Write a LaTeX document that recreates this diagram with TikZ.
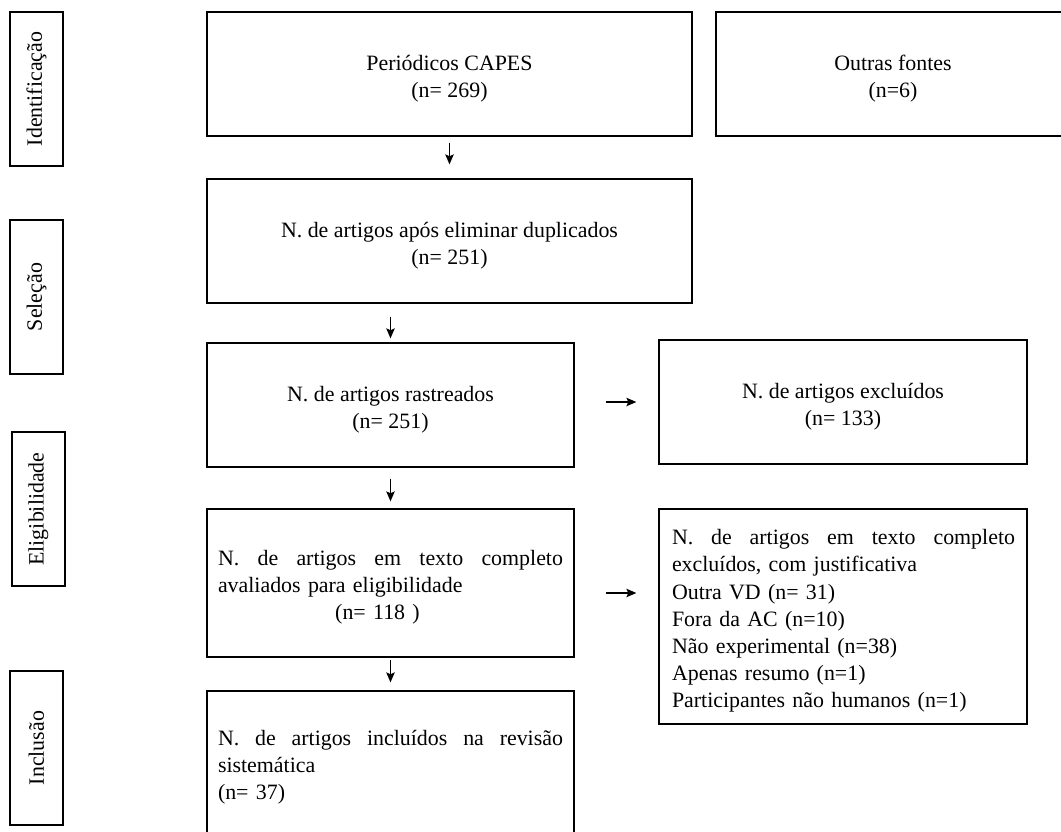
\documentclass[tikz,border=0pt]{standalone}
\usepackage{fontspec}
\setmainfont{Liberation Serif}
\usetikzlibrary{arrows.meta,calc}
\begin{document}
\begin{tikzpicture}[x=1pt,y=-1pt,
  box/.style={draw=black, line width=1.3pt, rectangle, inner sep=0pt},
  txt/.style={inner sep=0pt, font=\fontsize{21.9}{27.2}\selectfont},
  phasebox/.style={draw=black, line width=1.3pt, rectangle, rotate=90, inner sep=0pt,
    minimum width=154pt, minimum height=53pt, font=\fontsize{21.9}{27}\selectfont},
  arr/.style={line width=1.4pt, -{Stealth[length=10pt,width=8.5pt,inset=2pt]}}]
\useasboundingbox (0,0) rectangle (1061,832);
\fill[white] (0,0) rectangle (1061,832);

% phase labels
\node[phasebox] (pid) at (36.5,89) {Identificação};
\node[phasebox] (psel) at (36.5,297) {Seleção};
\node[phasebox] (pel) at (38.5,509) {Eligibilidade};
\node[phasebox] (pin) at (36.5,748) {Inclusão};

% boxes
\node[box, minimum width=485pt, minimum height=124pt] (capes) at (449.5,74) {};
\node[box, minimum width=354pt, minimum height=124pt] (outras) at (893,74) {};
\node[box, minimum width=485pt, minimum height=124pt] (dup) at (449.5,241) {};
\node[box, minimum width=367pt, minimum height=124pt] (rast) at (390.5,405) {};
\node[box, minimum width=368pt, minimum height=124pt] (excl) at (843,402) {};
\node[box, minimum width=367pt, minimum height=148pt] (elig) at (390.5,583) {};
\node[box, minimum width=368pt, minimum height=215pt] (just) at (843,616.5) {};
\node[box, minimum width=367pt, minimum height=148pt] (incl) at (390.5,765) {};

% texts
\node[txt, align=center] (capesT) at ($(capes.center)+(0,4.5)$) {Periódicos CAPES\\(n= 269)};
\node[txt, align=center] (outrasT) at ($(outras.center)+(0,4.5)$) {Outras fontes\\(n=6)};
\node[txt, align=center] (dupT) at ($(dup.center)+(0,4.5)$) {N. de artigos após eliminar duplicados\\(n= 251)};
\node[txt, align=center] (rastT) at ($(rast.center)+(0,4.5)$) {N. de artigos rastreados\\(n= 251)};
\node[txt, align=center] (exclT) at ($(excl.center)+(0,4.5)$) {N. de artigos excluídos\\(n= 133)};
\node[txt, text width=345pt, align=left] (eligT) at ($(elig.center)+(0,4.5)$)
  {\hbox to 345pt{N.\hfill de\hfill artigos\hfill em\hfill texto\hfill completo}\\avaliados para eligibilidade\\\hbox to 345pt{\hfil(n= 118 )\hfil\hskip 26pt}};
\node[txt, text width=343pt, align=left] (justT) at ($(just.center)+(0.5,4.5)$)
  {\hbox to 343pt{N.\hfill de\hfill artigos\hfill em\hfill texto\hfill completo}\\excluídos, com justificativa\\Outra VD (n= 31)\\Fora da AC (n=10)\\Não experimental (n=38)\\Apenas resumo (n=1)\\Participantes não humanos (n=1)};
\node[txt, text width=345pt, align=left] (inclT) at ($(incl.center)+(0,2.5)$)
  {\hbox to 345pt{N.\hfill de\hfill artigos\hfill incluídos\hfill na\hfill revisão}\\sistemática\\(n= 37)};

% connectors
\draw[arr, shorten <=6pt, shorten >=14pt] (capes.south) -- (dup.north);
\draw[arr, shorten <=13pt, shorten >=4pt] (dup.south -| rast.north) -- (rast.north);
\draw[arr, shorten <=11pt, shorten >=7pt] (rast.south) -- (elig.north);
\draw[arr, shorten <=2pt, shorten >=8pt] (elig.south) -- (incl.north);
\draw[arr, shorten <=31pt, shorten >=22pt] (rast.east |- excl.west) -- (excl.west);
\coordinate (ej) at ($(elig.east)+(0,10)$);
\draw[arr, shorten <=31pt, shorten >=22pt] (ej) -- (ej -| just.west);
\end{tikzpicture}
\end{document}
